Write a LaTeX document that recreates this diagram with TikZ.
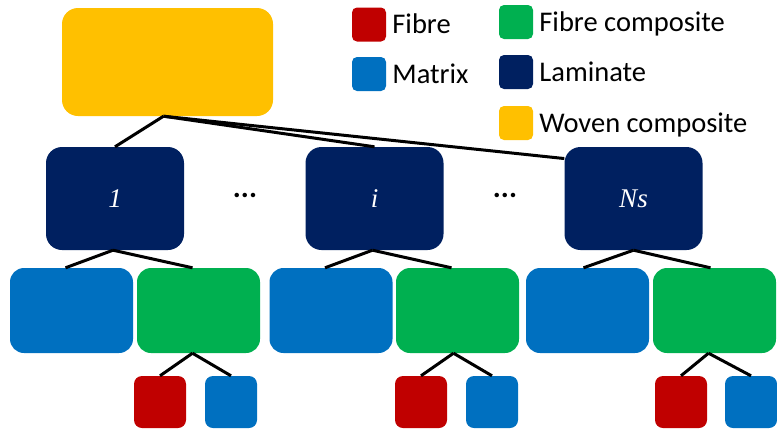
\documentclass[tikz,border=0pt]{standalone}
\usepackage{fontspec}
\usetikzlibrary{positioning}
\setmainfont{Carlito}
\newfontfamily\lamfont{Liberation Serif}
\definecolor{wovenyellow}{HTML}{FFC000}
\definecolor{laminavy}{HTML}{002060}
\definecolor{matrixblue}{HTML}{0070C0}
\definecolor{fibregreen}{HTML}{00B050}
\definecolor{fibrered}{HTML}{C00000}

\begin{document}
\begin{tikzpicture}[x=1pt,y=-1pt]
  \tikzset{woven box/.style={rectangle,rounded corners=16pt,inner sep=0pt,minimum width=211pt,minimum height=108pt,fill=wovenyellow},
    lam box/.style={rectangle,rounded corners=16pt,inner sep=0pt,minimum width=138pt,minimum height=103pt,fill=laminavy,text=white,font=\lamfont\itshape\fontsize{27}{30}\selectfont},
    mid box/.style={rectangle,rounded corners=14pt,inner sep=0pt,minimum width=123pt,minimum height=85pt,fill=#1},
    small box/.style={rectangle,rounded corners=8pt,inner sep=0pt,minimum size=52pt,fill=#1},
    key/.style={rectangle,rounded corners=5pt,inner sep=0pt,minimum size=34pt,fill=#1},
    keytext/.style={inner sep=0pt,text height=18pt,text depth=0pt,font=\fontsize{28.5}{32}\selectfont},
    link/.style={line width=3pt}}
  \useasboundingbox (0,0) rectangle (777,429);

  \node [woven box] (W) at (167.5,62) {};

  \node [lam box] (L1) at (115,198.5) {1};
  \node [lam box] (Li) at (374.5,198.5) {i};
  \node [lam box] (LN) at (633.5,198.5) {Ns};
  \node [font=\bfseries\fontsize{30}{32}\selectfont] (dotsA) at (245,195) {...};
  \node [font=\bfseries\fontsize{30}{32}\selectfont] (dotsB) at (505,195) {...};

  \node [mid box = matrixblue] (M1) at (71.5,310.5) {};
  \node [mid box = fibregreen] (F1) at (198.5,310.5) {};
  \node [mid box = matrixblue] (Mi) at (331,310.5) {};
  \node [mid box = fibregreen] (Fi) at (457.5,310.5) {};
  \node [mid box = matrixblue] (MN) at (587.5,310.5) {};
  \node [mid box = fibregreen] (FN) at (714.5,310.5) {};

  \node [small box = fibrered] (r1) at (160,402) {};
  \node [small box = matrixblue] (b1) at (231,402) {};
  \node [small box = fibrered] (ri) at (421,402) {};
  \node [small box = matrixblue] (bi) at (492,402) {};
  \node [small box = fibrered] (rN) at (681,402) {};
  \node [small box = matrixblue] (bN) at (751,402) {};

  \draw [link] ([xshift=-4pt]W.south) -- (L1.north);
  \draw [link] ([xshift=-4pt]W.south) -- (Li.north);
  \draw [link] ([xshift=-4pt]W.south) -- (LN.150);
  \draw [link] ([xshift=-2pt]L1.south) -- ([xshift=-6pt]M1.north);
  \draw [link] ([xshift=-2pt]L1.south) -- ([xshift=-6pt]F1.north);
  \draw [link] ([xshift=-2pt]Li.south) -- ([xshift=-6pt]Mi.north);
  \draw [link] ([xshift=-2pt]Li.south) -- ([xshift=-6pt]Fi.north);
  \draw [link] (LN.south) -- ([xshift=-4pt]MN.north);
  \draw [link] (LN.south) -- ([xshift=-4pt]FN.north);
  \draw [link] ([xshift=-6pt]F1.south) -- (r1.north);
  \draw [link] ([xshift=-6pt]F1.south) -- (b1.north);
  \draw [link] ([xshift=-4pt]Fi.south) -- (ri.north);
  \draw [link] ([xshift=-4pt]Fi.south) -- (bi.north);
  \draw [link] ([xshift=-6pt]FN.south) -- (rN.north);
  \draw [link] ([xshift=-6pt]FN.south) -- (bN.north);

  \node [key = fibrered] (kFib) at (369,24.5) {};
  \node [key = matrixblue] (kMat) at (369,74) {};
  \node [key = fibregreen] (kFc) at (516,22) {};
  \node [key = laminavy] (kLam) at (516,72) {};
  \node [key = wovenyellow] (kWov) at (516,123) {};
  \node [keytext, right=6pt of kFib] (tFib) {Fibre};
  \node [keytext, right=6pt of kMat] (tMat) {Matrix};
  \node [keytext, right=6pt of kFc] (tFc) {Fibre composite};
  \node [keytext, right=6pt of kLam] (tLam) {Laminate};
  \node [keytext, right=6pt of kWov] (tWov) {Woven composite};
\end{tikzpicture}
\end{document}
